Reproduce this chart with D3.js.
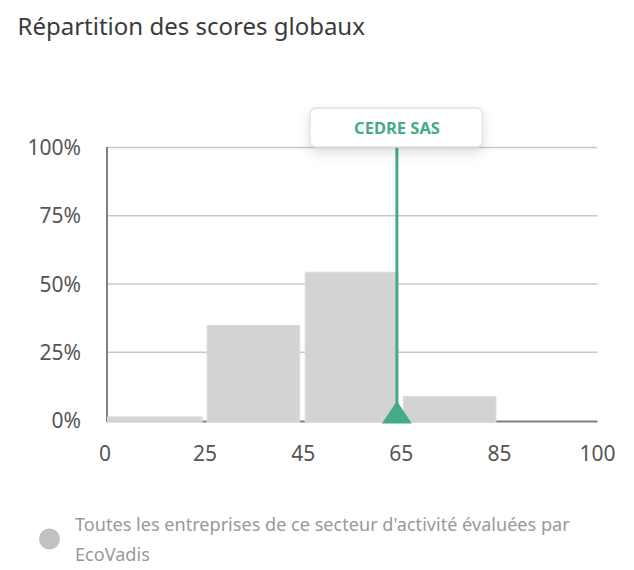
<!DOCTYPE html>
<html>
<head>
<meta charset="utf-8">
<script src="https://cdn.jsdelivr.net/npm/d3@7"></script>
<style>
  html, body { margin: 0; padding: 0; background: #fff; }
  svg { display: block; font-family: "Noto Sans", "Open Sans", sans-serif; }
</style>
</head>
<body>
<svg class="chart"></svg>
<script>
// score bins and share of companies per bin
var binEdges = [0, 25, 45, 65, 85, 100];
var binShares = [1.5, 35, 54.5, 9, 0];
var yTicks = [0, 25, 50, 75, 100];
var companyName = "CEDRE SAS";
var companyScore = 64.1;
var titleText = "Répartition des scores globaux";
var legendLines = ["Toutes les entreprises de ce secteur d'activité évaluées par", "EcoVadis"];

var ui = {
  left: 107, right: 597.5, top: 148, bottom: 421,
  green: "#45ab87",
  bar: "#d3d3d3",
  barEdge: "#dcdcdc",
  grid: "#c8c8c8",
  axis: "#7f7f7f",
  tick: "#555"
};

var chart = d3.select(".chart")
  .attr("width", 634)
  .attr("height", 570);

var defs = chart.append("defs");
var shadow = defs.append("filter").attr("id", "shadow")
  .attr("x", "-20%").attr("y", "-40%").attr("width", "140%").attr("height", "200%");
shadow.append("feDropShadow")
  .attr("dx", 0).attr("dy", 5).attr("stdDeviation", 6)
  .attr("flood-color", "#000").attr("flood-opacity", 0.13);

// bins are evenly spaced on the axis whatever their width
var x = d3.scaleLinear()
  .domain(binEdges)
  .range(binEdges.map(function(d, i) { return ui.left + i * (ui.right - ui.left) / (binEdges.length - 1); }));
var y = d3.scaleLinear().domain([0, 100]).range([ui.bottom, ui.top]);

chart.append("text")
  .attr("x", 17.5).attr("y", 35)
  .attr("font-size", 24)
  .attr("fill", "#3a3a3a")
  .text(titleText);

// grid
chart.selectAll(".grid").data(yTicks.filter(function(d) { return d > 0; }))
  .enter().append("line")
  .attr("class", "grid")
  .attr("x1", ui.left).attr("x2", ui.right)
  .attr("y1", function(d) { return y(d) - 0.5; })
  .attr("y2", function(d) { return y(d) - 0.5; })
  .attr("stroke", ui.grid)
  .attr("stroke-width", 1.3);

// axis lines
chart.append("line")
  .attr("x1", ui.left).attr("x2", ui.left)
  .attr("y1", ui.top - 1).attr("y2", ui.bottom + 1)
  .attr("stroke", ui.axis).attr("stroke-width", 2);
chart.append("line")
  .attr("x1", ui.left).attr("x2", ui.right)
  .attr("y1", ui.bottom + 0.5).attr("y2", ui.bottom + 0.5)
  .attr("stroke", ui.axis).attr("stroke-width", 2);

// bars
chart.selectAll(".bar").data(binShares)
  .enter().append("rect")
  .attr("class", "bar")
  .attr("x", function(d, i) { return x(binEdges[i]) + (i ? 2 : 0.5); })
  .attr("y", function(d) { return y(d); })
  .attr("width", function(d, i) { return x(binEdges[i + 1]) - x(binEdges[i]) - (i ? 5.5 : 3.5); })
  .attr("height", function(d) { return d ? y(0) - y(d) + 1.5 : 0; })
  .attr("fill", ui.bar)
  .attr("stroke", ui.barEdge)
  .attr("stroke-width", 1);

// tick labels
chart.selectAll(".ylabel").data(yTicks)
  .enter().append("text")
  .attr("class", "ylabel")
  .attr("x", 81)
  .attr("y", function(d) { return y(d) + 7; })
  .attr("text-anchor", "end")
  .attr("font-size", 21)
  .attr("fill", ui.tick)
  .text(function(d) { return d + "%"; });

chart.selectAll(".xlabel").data(binEdges)
  .enter().append("text")
  .attr("class", "xlabel")
  .attr("x", function(d) { return x(d) - (d === 0 ? 2 : 0); })
  .attr("y", 461)
  .attr("text-anchor", "middle")
  .attr("font-size", 21)
  .attr("fill", ui.tick)
  .text(function(d) { return d; });

// company marker
var mx = x(companyScore);
chart.append("line")
  .attr("x1", mx).attr("x2", mx)
  .attr("y1", ui.top - 2).attr("y2", ui.bottom)
  .attr("stroke", ui.green).attr("stroke-width", 3);
chart.append("path")
  .attr("d", d3.line()([[mx - 15, ui.bottom + 2.5], [mx, ui.bottom - 20], [mx + 15, ui.bottom + 2.5]]) + "Z")
  .attr("fill", ui.green);

chart.append("rect")
  .attr("x", 310).attr("y", 108)
  .attr("width", 172.5).attr("height", 39)
  .attr("rx", 6)
  .attr("fill", "#fff")
  .attr("stroke", "#e2e2e2")
  .attr("stroke-width", 1.5)
  .attr("filter", "url(#shadow)");
chart.append("text")
  .attr("x", 397).attr("y", 134)
  .attr("text-anchor", "middle")
  .attr("font-size", 16.5)
  .attr("font-weight", 700)
  .attr("fill", ui.green)
  .text(companyName);

// legend
chart.append("circle")
  .attr("cx", 49.5).attr("cy", 539)
  .attr("r", 10.5)
  .attr("fill", "#c1c1c1");
chart.selectAll(".legend").data(legendLines)
  .enter().append("text")
  .attr("class", "legend")
  .attr("x", 75)
  .attr("y", function(d, i) { return 531 + i * 30; })
  .attr("font-size", 18.1)
  .attr("fill", "#999")
  .text(function(d) { return d; });
</script>
</body>
</html>
